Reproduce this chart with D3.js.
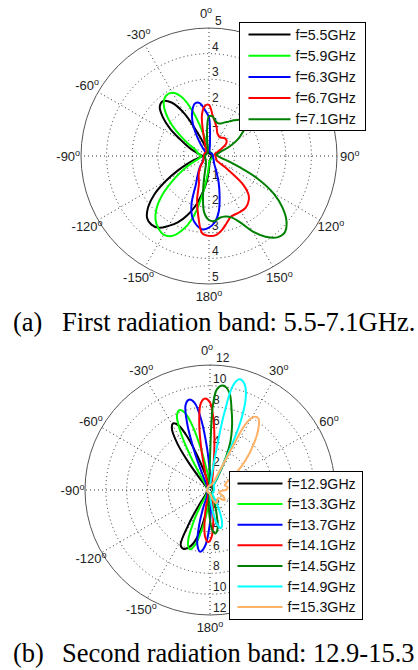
<!DOCTYPE html>
<html>
<head>
<meta charset="utf-8">
<script src="https://cdn.jsdelivr.net/npm/d3@7"></script>
<style>
body { margin: 0; background: #fff; }
svg { display: block; }
</style>
</head>
<body>
<svg id="chart" width="418" height="670"></svg>
<script>
// (a) first radiation band, pairs are [angle in degrees, radius]
const namesA = ["f=5.5GHz", "f=5.9GHz", "f=6.3GHz", "f=6.7GHz", "f=7.1GHz"];
const colorsA = ["#000000", "#00ff00", "#0000ff", "#ff0000", "#008000"];
const ticksA = [1, 2, 3, 4, 5];

const a55 = [[-180,0.5],[-175,1.0],[-170,1.45],[-165,2.0],[-160,2.45],[-155,2.85],[-150,3.15],[-145,3.42],[-140,3.5],[-135,3.42],[-130,3.1],[-125,2.6],[-120,1.95],[-115,1.35],[-110,0.9],[-105,0.6],[-100,0.4],[-90,0.25],[-80,0.4],[-75,0.5],[-70,0.7],[-65,0.95],[-60,1.3],[-55,1.85],[-50,2.35],[-45,2.72],[-40,2.8],[-35,2.55],[-30,1.9],[-25,0.8],[-20,0.35],[-10,0.15],[0,0.1],[45,0.1],[90,0.1],[135,0.1],[170,0.2]];
const a59 = [[-180,0.35],[-175,0.8],[-170,1.6],[-165,2.55],[-160,3.1],[-155,3.45],[-150,3.55],[-145,3.45],[-140,3.25],[-135,2.9],[-130,2.4],[-125,1.8],[-120,1.3],[-115,0.9],[-110,0.6],[-100,0.35],[-90,0.3],[-80,0.4],[-65,0.6],[-60,0.9],[-55,1.35],[-50,1.9],[-45,2.4],[-40,2.75],[-35,2.9],[-30,2.85],[-25,2.55],[-20,1.85],[-15,1.0],[-10,0.5],[-5,0.3],[0,0.2],[45,0.15],[90,0.15],[135,0.15],[175,0.2]];
const a63 = [[-175,2.88],[-170,2.75],[-165,2.5],[-160,2.0],[-155,1.2],[-150,0.9],[-140,0.55],[-130,0.3],[-90,0.2],[-45,0.2],[-40,0.3],[-35,0.6],[-30,1.05],[-25,1.55],[-20,1.9],[-15,2.12],[-10,2.1],[-5,1.8],[0,1.5],[5,0.4],[10,0.15],[60,0.15],[120,0.2],[145,0.35],[155,0.7],[160,1.1],[165,1.6],[170,2.2],[175,2.6],[180,2.8]];
const a67 = [[-175,3.03],[-170,2.4],[-165,1.8],[-160,1.15],[-155,0.95],[-150,0.8],[-145,0.65],[-140,0.5],[-130,0.3],[-90,0.2],[-60,0.2],[-30,0.2],[-20,0.4],[-15,0.8],[-10,1.6],[-5,1.95],[0,2.0],[5,1.6],[10,1.35],[15,1.15],[20,0.95],[25,0.88],[30,0.85],[35,0.87],[40,0.92],[45,0.93],[50,0.9],[55,0.8],[60,0.55],[65,0.35],[70,0.25],[90,0.25],[110,0.3],[120,0.35],[125,0.8],[130,1.75],[135,2.2],[140,2.38],[145,2.48],[150,2.5],[155,2.5],[160,2.52],[165,2.7],[170,2.93],[175,3.1],[180,3.12]];
const a71 = [[-175,2.2],[-170,1.3],[-165,0.6],[-160,0.35],[-140,0.2],[-90,0.15],[-20,0.15],[-10,0.3],[-5,0.9],[0,1.55],[5,1.55],[10,1.4],[15,1.33],[20,1.35],[25,1.45],[30,1.55],[35,1.7],[40,1.85],[45,1.95],[50,1.9],[55,1.6],[60,1.3],[65,0.9],[70,0.5],[75,0.35],[80,0.3],[90,0.35],[100,0.5],[105,0.8],[110,1.25],[115,2.1],[120,2.9],[125,3.5],[130,3.95],[135,4.2],[140,4.15],[145,3.85],[150,3.4],[155,2.85],[160,2.55],[165,2.45],[170,2.45],[175,2.55],[180,2.5]];

// (b) second radiation band
const namesB = ["f=12.9GHz", "f=13.3GHz", "f=13.7GHz", "f=14.1GHz", "f=14.5GHz", "f=14.9GHz", "f=15.3GHz"];
const colorsB = ["#000000", "#00ff00", "#0000ff", "#ff0000", "#008000", "#00ffff", "#ffb266"];
const ticksB = [2, 4, 6, 8, 10, 12];

const b129 = [[-178,0.5],[-172,1.5],[-166,4.3],[-161,5.7],[-156,6.2],[-152,6.0],[-148,3.8],[-144,1.8],[-138,0.7],[-125,0.4],[-90,0.3],[-60,0.35],[-49,0.5],[-42,1.3],[-38,3.3],[-35,5.5],[-32,6.9],[-29,7.3],[-26,6.9],[-23,5.5],[-20,3.3],[-16,1.3],[-9,0.5],[0,0.3],[45,0.3],[90,0.3],[135,0.3],[170,0.35]];
const b133 = [[-179,0.6],[-173,1.8],[-169,3.6],[-165,5.4],[-161,6.0],[-157,5.4],[-153,3.6],[-149,1.8],[-143,0.6],[-110,0.3],[-70,0.3],[-41,0.6],[-34,1.5],[-30,3.7],[-27,6.2],[-24,7.8],[-21,8.2],[-18,7.8],[-15,6.2],[-12,3.7],[-8,1.5],[-1,0.6],[40,0.3],[90,0.3],[140,0.3],[170,0.4]];
const b137 = [[-179,3.6],[-175,5.4],[-171,6.0],[-167,5.4],[-163,3.6],[-159,1.8],[-153,0.6],[-110,0.3],[-60,0.3],[-33,0.6],[-26,1.6],[-22,4.0],[-19,6.7],[-16,8.5],[-13,8.9],[-10,8.5],[-7,6.7],[-4,4.0],[0,1.6],[7,0.6],[60,0.3],[120,0.3],[171,0.6],[177,1.8]];
const b141 = [[-178,5.0],[-174,4.5],[-170,3.0],[-166,1.5],[-160,0.5],[-110,0.3],[-60,0.3],[-23,0.6],[-16,1.6],[-12,4.0],[-9,6.6],[-6,8.4],[-3,8.8],[0,8.4],[3,6.6],[6,4.0],[10,1.6],[17,0.6],[70,0.3],[120,0.3],[164,0.5],[170,1.5],[174,3.0],[178,4.5]];
const b145 = [[-179,2.5],[-175,1.3],[-169,0.4],[-120,0.3],[-60,0.3],[-8,0.4],[-3,1.0],[0,3.0],[2,8.2],[4,9.7],[7,10.1],[11,9.6],[15,8.0],[19,6.5],[23,5.0],[27,3.0],[32,1.2],[40,0.5],[90,0.3],[155,0.4],[161,1.3],[165,2.5],[169,3.8],[173,4.2],[177,3.8]];
const b149 = [[-178,0.4],[-120,0.3],[-60,0.3],[0,0.5],[6,1.2],[9,4.0],[10.5,7.5],[12.5,10.3],[15,11.0],[18,10.7],[21,9.6],[24,7.3],[26,4.6],[28,2.0],[33,0.8],[45,0.5],[90,0.4],[146,0.4],[152,1.1],[156,2.3],[160,3.4],[164,3.8],[168,3.4],[172,2.3],[176,1.1]];
const b153 = [[-170,0.3],[-120,0.3],[-60,0.3],[-20,0.4],[20,0.6],[26,1.5],[27.5,4.5],[28.5,7.3],[31,8.2],[34,8.3],[37,7.8],[41,6.8],[47,5.2],[53,3.8],[60,2.5],[66,1.7],[73,1.5],[80,1.7],[88,1.6],[96,1.0],[105,0.9],[115,1.4],[125,1.7],[135,1.1],[145,1.2],[155,1.4],[165,0.9],[175,0.4]];

const angleLabels = [0, 30, 60, 90, 120, 150, 180, -150, -120, -90, -60, -30];

const svg = d3.select("#chart");
const sans = "Arial, 'Liberation Sans', sans-serif";
const rad = Math.PI / 180;

function drawPolar(cfg) {
    var g = svg.append("g")
        .attr("transform", "translate(" + cfg.cx + "," + cfg.cy + ")");
    var r = d3.scaleLinear().domain([0, cfg.max]).range([0, cfg.R]);
    var L = cfg.legend;

    // dotted spokes
    g.selectAll(".spoke")
        .data(d3.range(0, 180, 30))
        .enter().append("line")
        .attr("x1", d => cfg.R * Math.sin(d * rad))
        .attr("y1", d => -cfg.R * Math.cos(d * rad))
        .attr("x2", d => -cfg.R * Math.sin(d * rad))
        .attr("y2", d => cfg.R * Math.cos(d * rad))
        .attr("stroke", "#333")
        .attr("stroke-width", 1)
        .attr("stroke-dasharray", "1,3");

    // dotted rings, solid outer ring
    g.selectAll(".ring")
        .data(cfg.ticks)
        .enter().append("circle")
        .attr("r", d => r(d))
        .attr("fill", "none")
        .attr("stroke", d => d === cfg.max ? "#555" : "#333")
        .attr("stroke-width", 1)
        .attr("stroke-dasharray", d => d === cfg.max ? null : "1,3");

    // radial tick labels above and below the centre
    cfg.ticks.forEach(function(t) {
        [-1, 1].forEach(function(s) {
            g.append("text")
                .attr("x", t === cfg.max && s < 0 ? 6 : 3)
                .attr("y", s * r(t) - 3)
                .attr("font-family", sans)
                .attr("font-size", 12)
                .attr("fill", "#222")
                .text(t);
        });
    });

    // angle labels (the ones under the legend box are covered there)
    angleLabels.forEach(function(a) {
        var lr = cfg.R * 1.1;
        var x = lr * Math.sin(a * rad), y = -lr * Math.cos(a * rad);
        var px = cfg.cx + x, py = cfg.cy + y;
        if (px > L.x - 8 && px < L.x + L.w && py > L.y - 6 && py < L.y + L.h + 6) return;
        var t = g.append("text")
            .attr("x", a === 0 ? x - 3 : x)
            .attr("y", a === 0 ? y - 2 : y)
            .attr("text-anchor", "middle")
            .attr("dy", "0.35em")
            .attr("font-family", sans)
            .attr("font-size", 13)
            .attr("fill", "#222");
        t.append("tspan").text(a);
        t.append("tspan").attr("font-size", 9).attr("dy", -5).text("o");
    });

    var line = d3.lineRadial()
        .angle(d => d[0] * rad)
        .radius(d => r(d[1]))
        .curve(d3.curveCatmullRomClosed.alpha(0.5));

    g.selectAll(".pattern")
        .data(cfg.series)
        .enter().append("path")
        .attr("d", line)
        .attr("fill", "none")
        .attr("stroke", (d, i) => cfg.colors[i])
        .attr("stroke-width", 2)
        .attr("stroke-linejoin", "round");

    // legend
    var lg = svg.append("g")
        .attr("transform", "translate(" + L.x + "," + L.y + ")");
    lg.append("rect")
        .attr("width", L.w)
        .attr("height", L.h)
        .attr("fill", "#fff")
        .attr("stroke", "#000")
        .attr("stroke-width", 1);
    cfg.names.forEach(function(n, i) {
        var y = L.top + i * L.step;
        lg.append("line")
            .attr("x1", L.pad)
            .attr("x2", L.pad + L.len)
            .attr("y1", y)
            .attr("y2", y)
            .attr("stroke", cfg.colors[i])
            .attr("stroke-width", 2);
        lg.append("text")
            .attr("x", L.pad + L.len + 5)
            .attr("y", y)
            .attr("dy", "0.36em")
            .attr("font-family", sans)
            .attr("font-size", 14.2)
            .attr("fill", "#111")
            .text(n);
    });
}

drawPolar({
    cx: 209, cy: 156, R: 128, max: 5, ticks: ticksA,
    series: [a55, a59, a63, a67, a71], colors: colorsA, names: namesA,
    legend: { x: 239.5, y: 22.5, w: 126, h: 108, pad: 9, len: 42, top: 12, step: 21.2 }
});

drawPolar({
    cx: 210, cy: 490, R: 125, max: 12, ticks: ticksB,
    series: [b129, b133, b137, b141, b145, b149, b153], colors: colorsB, names: namesB,
    legend: { x: 229.5, y: 471.5, w: 133, h: 148, pad: 8, len: 45, top: 12, step: 20.6 }
});

// captions (the second one is cut by the page edge in the original)
const serif = "'Times New Roman', 'Liberation Serif', serif";
[["(a)", "First radiation band: 5.5-7.1GHz.", 331], ["(b)", "Second radiation band: 12.9-15.3", 662]].forEach(function(c) {
    svg.append("text").attr("x", 13).attr("y", c[2])
        .attr("font-family", serif).attr("font-size", 26.5).text(c[0]);
    svg.append("text").attr("x", 62).attr("y", c[2])
        .attr("font-family", serif).attr("font-size", 26.5).text(c[1]);
});
</script>
</body>
</html>
